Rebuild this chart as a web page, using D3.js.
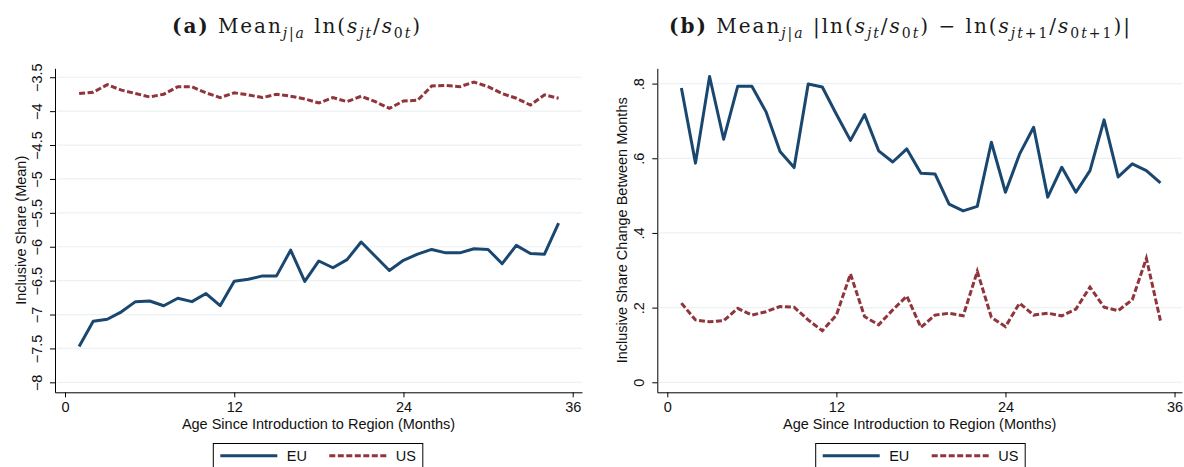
<!DOCTYPE html>
<html>
<head>
<meta charset="utf-8">
<script src="https://cdn.jsdelivr.net/npm/d3@7"></script>
<style>
  html, body { margin: 0; padding: 0; background: #fff; }
  svg { display: block; }
  .tick text { font-family: "Liberation Sans", Arial, sans-serif; }
</style>
</head>
<body>
<svg id="chart" width="1184" height="467"></svg>
<script>
// ---- data (months since introduction 1..35) ----
const months = d3.range(1, 36);

// panel (a): mean log inclusive share
const euMeanA = [-7.47,-7.10,-7.07,-6.96,-6.81,-6.80,-6.87,-6.76,-6.81,-6.69,-6.87,-6.51,-6.48,-6.43,-6.43,-6.05,-6.51,-6.21,
                 -6.31,-6.19,-5.93,-6.14,-6.35,-6.20,-6.11,-6.04,-6.09,-6.09,-6.03,-6.04,-6.25,-5.98,-6.10,-6.11,-5.65];
const usMeanA = [-3.74,-3.72,-3.61,-3.69,-3.74,-3.79,-3.75,-3.64,-3.64,-3.73,-3.80,-3.73,-3.76,-3.80,-3.75,-3.78,-3.82,-3.88,
                 -3.80,-3.86,-3.78,-3.86,-3.96,-3.85,-3.84,-3.63,-3.62,-3.64,-3.57,-3.64,-3.74,-3.81,-3.91,-3.76,-3.81];

// panel (b): mean abs change between months
const euChangeB = [0.788,0.587,0.819,0.651,0.793,0.793,0.725,0.618,0.575,0.799,0.791,0.718,0.648,0.717,0.620,0.590,0.625,0.560,
                   0.558,0.477,0.459,0.471,0.643,0.509,0.611,0.683,0.496,0.576,0.509,0.567,0.703,0.550,0.585,0.567,0.534];
const usChangeB = [0.212,0.167,0.162,0.165,0.198,0.180,0.189,0.203,0.201,0.167,0.138,0.180,0.290,0.176,0.154,0.194,0.231,0.147,
                   0.180,0.185,0.178,0.297,0.174,0.149,0.212,0.180,0.185,0.178,0.196,0.255,0.201,0.192,0.221,0.332,0.165];

const xTicks = [0, 12, 24, 36];
const yTicksA = [-8, -7.5, -7, -6.5, -6, -5.5, -5, -4.5, -4, -3.5];
const yTicksB = [0, 0.2, 0.4, 0.6, 0.8];
const yLabelsB = ["0", ".2", ".4", ".6", ".8"];

const seriesNames = ["EU", "US"];
const EU_COLOR = "#1a476f", US_COLOR = "#90353b";
const SANS = '"Liberation Sans", Arial, sans-serif';
const SERIF = '"DejaVu Serif", "Liberation Serif", serif';

const svg = d3.select("#chart");

function panel(opt) {
  const x = d3.scaleLinear().domain(opt.xDomain).range([opt.left, opt.right]);
  const y = d3.scaleLinear().domain(opt.yDomain).range([opt.bottom, opt.top]);
  const g = svg.append("g");

  // gridlines
  g.selectAll(".grid").data(opt.yTicks).enter().append("line")
    .attr("x1", opt.left + 2).attr("x2", opt.right)
    .attr("y1", d => y(d)).attr("y2", d => y(d))
    .attr("stroke", "#eaf2f3").attr("stroke-width", 1.2);

  // y axis
  const ya = g.append("g").attr("transform", `translate(${opt.left},0)`)
    .call(d3.axisLeft(y).tickValues(opt.yTicks).tickSize(5).tickSizeOuter(0)
      .tickFormat((d, i) => opt.yLabels ? opt.yLabels[i] : d3.format("")(d).replace("-", "\u2212")));
  ya.select(".domain").attr("stroke", "#000");
  ya.selectAll(".tick line").attr("stroke", "#000");
  ya.selectAll(".tick text")
    .attr("x", 0).attr("dy", 0)
    .attr("transform", `translate(${opt.yLabX - opt.left},0) rotate(-90)`)
    .attr("text-anchor", "middle")
    .style("font-size", "14.5px").attr("fill", "#111");

  // x axis
  const xa = g.append("g").attr("transform", `translate(0,${opt.bottom})`)
    .call(d3.axisBottom(x).tickValues(xTicks).tickSize(5).tickSizeOuter(0).tickPadding(4));
  xa.select(".domain").attr("stroke", "#000");
  xa.selectAll(".tick line").attr("stroke", "#000");
  xa.selectAll(".tick text").style("font-size", "14.5px").attr("fill", "#111")
    .attr("y", 0).attr("dy", 0).attr("transform", "translate(0,20)");

  // axis titles
  g.append("text").attr("x", (opt.left + opt.right) / 2).attr("y", 428.5)
    .attr("text-anchor", "middle").style("font-family", SANS).style("font-size", "14.5px").attr("fill", "#111")
    .text("Age Since Introduction to Region (Months)");
  g.append("text").attr("transform", `translate(${opt.yTitleX},${(opt.top + opt.bottom) / 2}) rotate(-90)`)
    .attr("text-anchor", "middle").style("font-family", SANS).style("font-size", "14.5px").attr("fill", "#111")
    .text(opt.yTitle);

  // lines
  const line = d3.line().x((d, i) => x(months[i])).y(d => y(d));
  g.append("path").datum(opt.eu).attr("d", line).attr("fill", "none")
    .attr("stroke", EU_COLOR).attr("stroke-width", 3).attr("stroke-linejoin", "round");
  g.append("path").datum(opt.us).attr("d", line).attr("fill", "none")
    .attr("stroke", US_COLOR).attr("stroke-width", 3).attr("stroke-dasharray", "6,2.5");

  // legend
  const lg = g.append("g").attr("transform", `translate(${opt.legX},443.5)`);
  lg.append("rect").attr("x", 0).attr("y", 0).attr("width", 209.5).attr("height", 40)
    .attr("fill", "#fff").attr("stroke", "#000").attr("stroke-width", 1);
  seriesNames.forEach((name, i) => {
    const ox = i * 109;
    lg.append("line").attr("x1", 7 + ox).attr("x2", 64 + ox).attr("y1", 12.2).attr("y2", 12.2)
      .attr("stroke", i ? US_COLOR : EU_COLOR).attr("stroke-width", 3)
      .attr("stroke-dasharray", i ? "6,2.5" : null);
    lg.append("text").attr("x", 73.5 + ox).attr("y", 17.5)
      .style("font-family", SANS).style("font-size", "14.5px").attr("fill", "#111").text(name);
  });

  // title
  const t = svg.append("text").attr("x", opt.titleX).attr("y", 33).attr("text-anchor", "middle")
    .attr("textLength", opt.titleW).attr("lengthAdjust", "spacing")
    .style("font-family", SERIF).style("font-size", "20px").attr("fill", "#1a1a1a");
  let shift = 0;
  opt.title.forEach(s => {
    const ts = t.append("tspan").text(s.t);
    if (s.b) ts.style("font-weight", "bold");
    if (s.i) ts.style("font-style", "italic");
    const want = s.sub ? 4.5 : 0;
    if (want !== shift) { ts.attr("dy", want - shift); shift = want; }
    if (s.sub) ts.style("font-size", "14px");
  });
}

panel({
  left: 55, right: 582, top: 68.3, bottom: 392.3,
  xDomain: [-0.71, 36.66], yDomain: [-8.147, -3.368],
  yTicks: yTicksA, yLabX: 41.5, yTitleX: 25.5,
  yTitle: "Inclusive Share (Mean)",
  eu: euMeanA, us: usMeanA, legX: 213.3, titleX: 296, titleW: 248,
  title: [
    { t: "(a)", b: true }, { t: " Mean" }, { t: "j|a", i: true, sub: true },
    { t: " ln(" }, { t: "s", i: true }, { t: "jt", i: true, sub: true },
    { t: "/" }, { t: "s", i: true }, { t: "0", sub: true }, { t: "t", i: true, sub: true }, { t: ")" }
  ]
});

panel({
  left: 657.3, right: 1182, top: 68.3, bottom: 392.3,
  xDomain: [-0.71, 36.53], yDomain: [-0.0268, 0.841],
  yTicks: yTicksB, yLabels: yLabelsB, yLabX: 643.5, yTitleX: 627,
  yTitle: "Inclusive Share Change Between Months",
  eu: euChangeB, us: usChangeB, legX: 815.7, titleX: 899.5, titleW: 461,
  title: [
    { t: "(b)", b: true }, { t: " Mean" }, { t: "j|a", i: true, sub: true },
    { t: " |ln(" }, { t: "s", i: true }, { t: "jt", i: true, sub: true },
    { t: "/" }, { t: "s", i: true }, { t: "0", sub: true }, { t: "t", i: true, sub: true }, { t: ") \u2212 ln(" },
    { t: "s", i: true }, { t: "jt", i: true, sub: true }, { t: "+1", sub: true },
    { t: "/" }, { t: "s", i: true }, { t: "0", sub: true }, { t: "t", i: true, sub: true }, { t: "+1", sub: true }, { t: ")|" }
  ]
});
</script>
</body>
</html>
